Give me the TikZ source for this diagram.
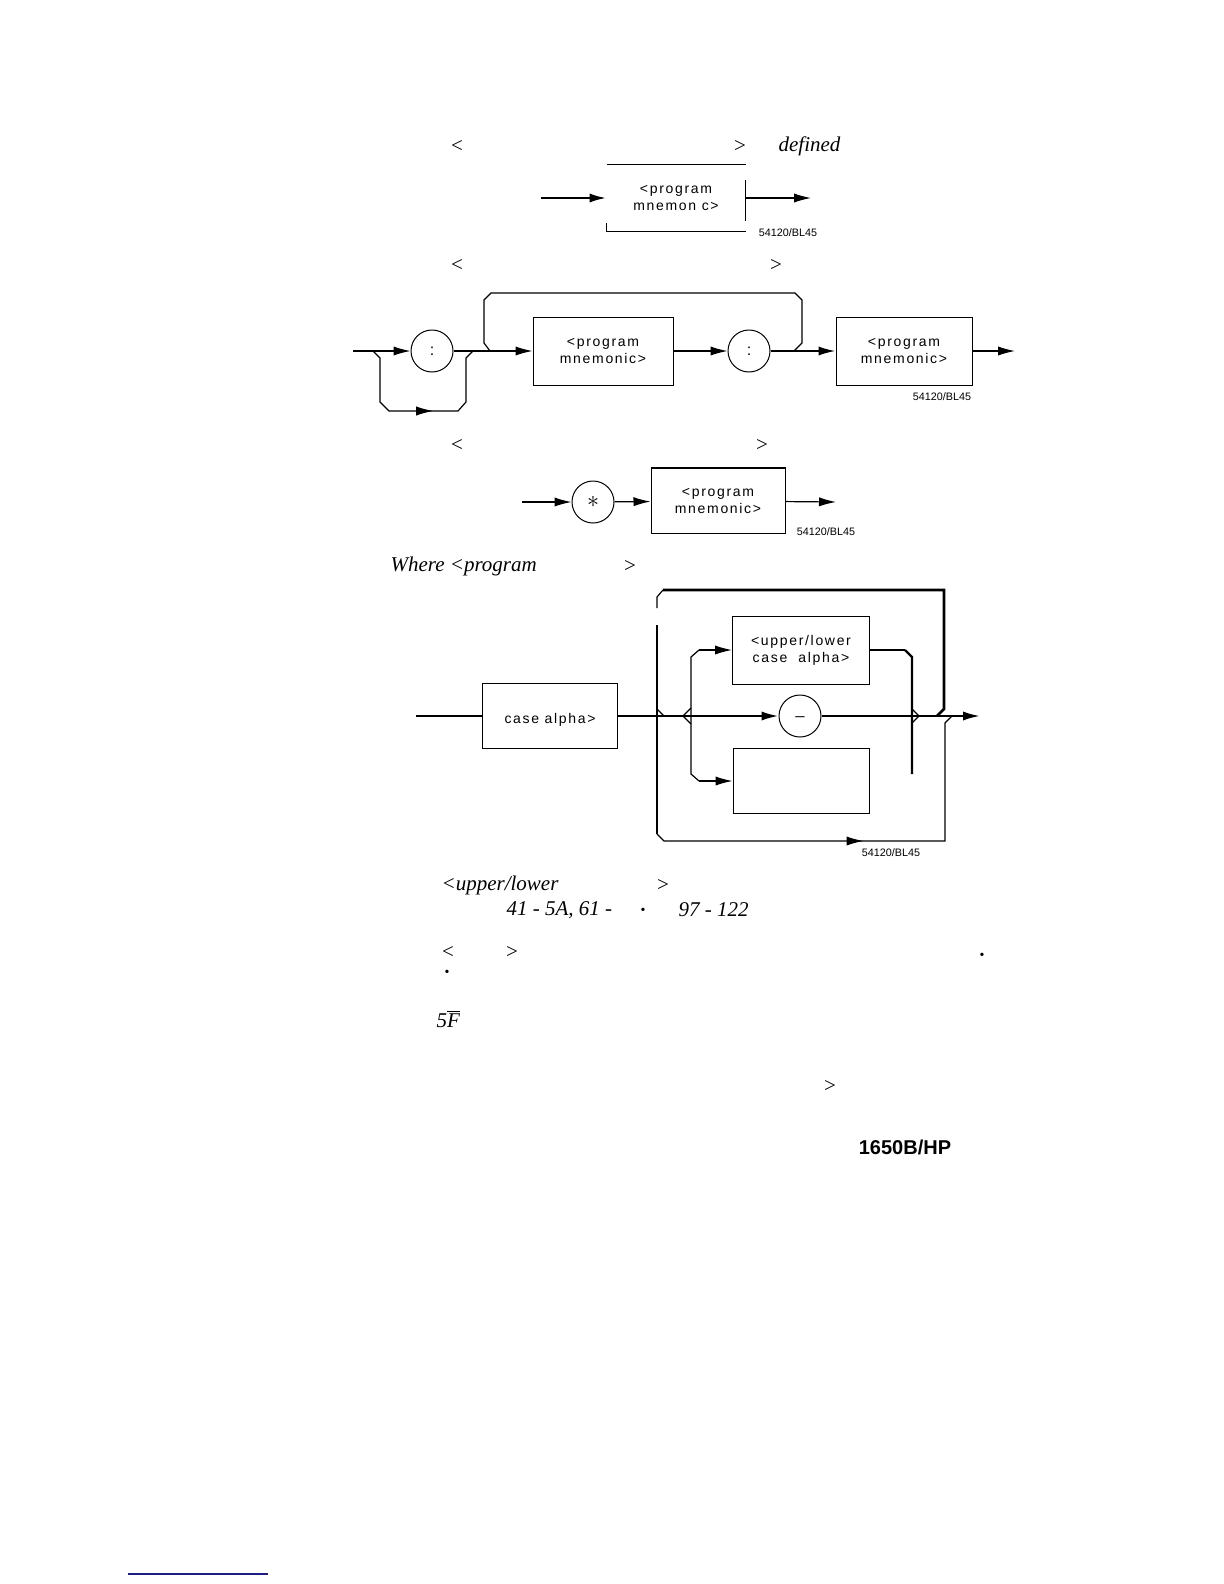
\documentclass[tikz,border=0pt]{standalone}
\usepackage{fontspec}
\setmainfont{Liberation Serif}
\newfontfamily\hpfont[LetterSpace=12]{Liberation Sans}
\newfontfamily\hdfont{Liberation Sans}
\usetikzlibrary{arrows.meta}
\usetikzlibrary{decorations.markings}

\definecolor{navy}{RGB}{30,30,130}

\tikzset{
	pmbox/.style={draw, line width=0.5pt, inner sep=0pt, align=center, font=\hpfont\fontsize{7}{8.5}\selectfont},
	sym/.style={draw, circle, minimum size=21pt, inner sep=0pt, line width=0.5pt, font=\hpfont\fontsize{8}{9}\selectfont},
	arr/.style={-{Latex[length=8.5pt,width=4.6pt]}},
	midarr/.style={postaction={decorate}, decoration={markings, mark=at position #1 with {\arrow{Latex[length=8.5pt,width=4.6pt]}}}},
	figno/.style={font=\hdfont\fontsize{5.4}{6}\selectfont, inner sep=0pt},
	txt/.style={font=\fontsize{10.5}{12}\selectfont, inner sep=0pt},
	spot/.style={font=\fontsize{7}{8}\selectfont, inner sep=0pt},
}

\begin{document}
\begin{tikzpicture}[x=0.5pt, y=-0.5pt, line width=0.6pt]
\useasboundingbox (0,0) rectangle (1224,1584);

% first form
\node[txt] (lt1) at (457,146) {<};
\node[txt] (gt1) at (740,146) {>};
\node[txt, anchor=west] (dfn) at (778,146) {\textit{defined}};
\node[pmbox, draw=none, minimum width=69pt, minimum height=33pt] (pm1) at (676,198) {<program\\mnemon c>};
\draw (pm1.north west) -- (pm1.north east);
\draw ([yshift=-7.5pt]pm1.north east) -- ([yshift=5.5pt]pm1.south east);
\draw ([yshift=4.5pt]pm1.south west) |- (pm1.south east);
\coordinate (in1) at (541,198);
\coordinate (out1) at (811,198);
\draw[arr, line width=1.2pt] (in1) -- (pm1.west);
\draw[arr] (pm1.east) -- (out1);
\node[figno] (fig1) at (788,233) {54120/BL45};

% second form
\node[txt] (lt2) at (457,265) {<};
\node[txt] (gt2) at (776,265) {>};
\coordinate (in2) at (353,351);
\node[sym] (col1) at (432,351) {:};
\node[pmbox, minimum width=70pt, minimum height=34pt] (pm2a) at (603,351) {<program\\mnemonic>};
\node[sym] (col2) at (749,351) {:};
\node[pmbox, minimum width=68pt, minimum height=34pt] (pm2b) at (904,351) {<program\\mnemonic>};
\coordinate (out2) at (1015,351);
\draw[arr] (in2) -- (col1);
\draw[arr] (col1) -- (pm2a);
\draw[arr] (pm2a) -- (col2);
\draw[arr, line width=0.9pt] (col2) -- (pm2b);
\draw[arr] (pm2b) -- (out2);

% bypass under the first colon
\coordinate (byl) at (373,351);
\coordinate (byr) at (473,351);
\draw[midarr=0.55] (byl) -- ++(7,7) -- ++(0,44) -- ++(9,9) -- ++(69,0) -- ++(8,-9) -- ++(0,-44) -- (byr);

% bracket over the repeated part
\coordinate (brl) at (490,351);
\coordinate (brr) at (794,351);
\draw (brl) -- ++(-6,-8) -- ++(0,-43) -- ++(7,-7) -- ++(304,0) -- ++(7,7) -- ++(0,43) -- (brr);
\node[figno] (fig2) at (942,397) {54120/BL45};

% third form
\node[txt] (lt3) at (457,445) {<};
\node[txt] (gt3) at (762,445) {>};
\coordinate (in3) at (522,502);
\node[sym] (ast) at (593,502) {\fontsize{12}{12}\selectfont$\ast$};
\node[pmbox, minimum width=67pt, minimum height=32.5pt] (pm3) at (718,501) {<program\\mnemonic>};
\draw[line width=1.2pt] (pm3.north west) -- (pm3.north east);
\coordinate (out3) at (836,502);
\draw[arr] (in3) -- (ast);
\draw[arr] (ast) -- (pm3);
\draw[arr] (pm3) -- (out3);
\node[figno] (fig3) at (826,532) {54120/BL45};

% where
\node[txt, anchor=west] (whr) at (390,566) {\textit{Where <program}};
\node[txt] (gt4) at (630,566) {>};

% fourth form
\coordinate (in4) at (416,716);
\node[pmbox, minimum width=67.5pt, minimum height=32.5pt] (ca) at (550,716) {\mbox{}\\case alpha>};
\node[sym] (us) at (800,716) {\_};
\node[pmbox, minimum width=68.5pt, minimum height=34pt] (ul) at (801,650) {<upper/lower\\case\ \ alpha>};
\node[pmbox, minimum width=68pt, minimum height=32.5pt] (lb) at (801,781) {};
\coordinate (out4) at (980,716);
\draw (in4) -- (ca);
\draw[arr, line width=1.1pt] (ca) -- (us);
\draw[arr, line width=1.1pt] (us) -- (out4);

% loop back over the alternatives
\coordinate (lpl) at (664,716);
\coordinate (lpr) at (937,716);
\draw[line width=1.3pt] (lpr) -- ++(7,-7) -- ++(0,-119) -- ++(-281,0);
\draw (663,590) -- ++(-6,7) -- ++(0,11);
\draw[line width=1.3pt] (657,625) -- (657,834);
\draw (lpl) -- ++(-7,-7);

% bypass under the alternatives
\coordinate (bpr) at (952,716);
\draw[midarr=0.5] (657,834) -- ++(7,7) -- ++(281,0) -- ++(0,-118) -- (bpr);

% split
\coordinate (spl) at (683,716);
\coordinate (ua) at (699,650);
\coordinate (la) at (699,781);
\draw[arr] (ua) -- (ul.west);
\draw[arr] (la) -- (lb.west);
\draw (ua) -- ++(-8,7) -- ++(0,117) -- (la);
\draw (spl) -- ++(8,-8) (spl) -- ++(8,8);

% merge
\coordinate (ub) at (905,650);
\coordinate (mrg) at (919,716);
\draw (ul.east) -- (ub);
\draw[line width=1.2pt] (ub) -- ++(7,7) -- ++(0,117);
\draw (mrg) -- ++(-7,-7) (mrg) -- ++(-7,7);
\node[figno] (fig4) at (891,853) {54120/BL45};

% text below
\node[txt, anchor=west] (ulw) at (441,885) {\textit{<upper/lower}};
\node[txt] (gt5) at (663,885) {>};
\node[txt, anchor=west] (rng1) at (506,910) {\textit{41 - 5A, 61 -}};
\node[spot] (dt1) at (643,911) {\textbullet};
\node[txt, anchor=west] (rng2) at (678,910) {\textit{97 - 122}};
\node[txt] (lt6) at (448,952) {<};
\node[txt] (gt6) at (512,952) {>};
\node[spot] (dt2) at (982,956) {\textbullet};
\node[spot] (dt3) at (447,973) {\textbullet};
\node[txt, anchor=west] (ff) at (436,1019) {\textit{5}$\overline{\mbox{\itshape F}}$};
\node[txt] (gt7) at (830,1086) {>};
\node[font=\hdfont\bfseries\fontsize{10}{12}\selectfont, inner sep=0pt] (hp) at (905,1147) {1650B/HP};
\draw[navy, line width=1pt] (128,1574) -- (268,1574);

\end{tikzpicture}
\end{document}
